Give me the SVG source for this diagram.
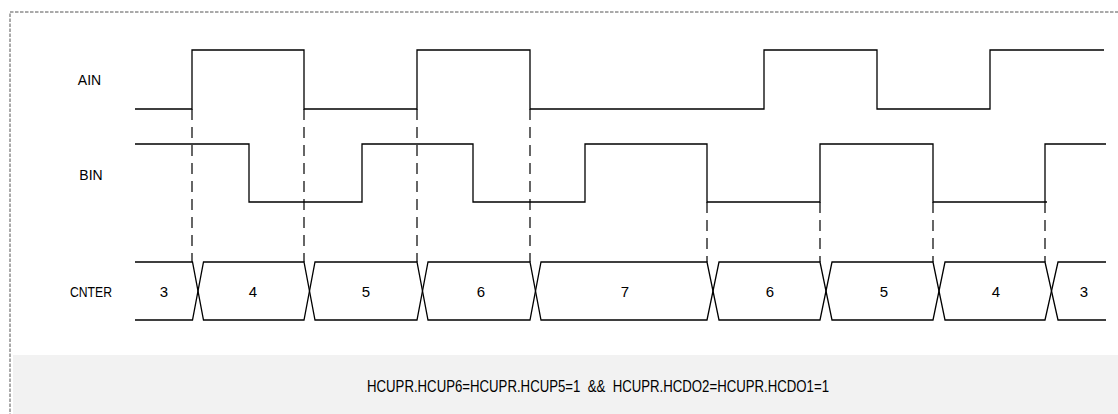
<svg xmlns="http://www.w3.org/2000/svg" width="1118" height="414" viewBox="0 0 1118 414">
<style>
.sig{fill:none;stroke:#000;stroke-width:1.3;stroke-linejoin:miter}
.dash{fill:none;stroke:#000;stroke-width:1.2;stroke-dasharray:11 7}
.lbl{font-family:"Liberation Sans",Arial,sans-serif;font-size:14px;fill:#000}
.num{font-family:"Liberation Sans",Arial,sans-serif;font-size:15px;fill:#000;text-anchor:middle}
</style>
<rect x="10" y="12" width="1120" height="420" fill="#fff" stroke="#555" stroke-width="1" stroke-dasharray="3.5 1.5"/>
<rect x="13" y="355" width="1105" height="59" fill="#f2f2f2"/>
<g id="labels">
<text class="lbl" x="89.5" y="85" text-anchor="middle">AIN</text>
<text class="lbl" x="91" y="180" text-anchor="middle">BIN</text>
<text class="lbl" x="91" y="297" text-anchor="middle" textLength="42" lengthAdjust="spacingAndGlyphs">CNTER</text>
</g>
<g id="AIN">
<path class="sig" d="M135 109 H192 V50 H304 V109 H417 V50 H530 V109 H764 V50 H877 V109 H990 V50 H1104"/>
</g>
<g id="BIN">
<path class="sig" d="M135 144 H249 V202 H362 V144 H473 V202 H585 V144 H707 V202 H820 V144 H933 V202 H1047 M1045 202 V144 H1106"/>
</g>
<g id="connectors">
<path class="dash" d="M192 109 V262 M304 109 V262 M417 109 V262 M530 109 V262 M707 202 V262 M820 202 V262 M933 202 V262 M1045 202 V262"/>
</g>
<g id="CNTER">
<path class="sig" d="M135 262 H192.5 L203.5 320 H304 L315 262 H417 L428 320 H530 L541 262 H707 L719 320 H820 L832 262 H933 L945 320 H1045 L1058 262 H1106"/>
<path class="sig" d="M135 320 H192.5 L203.5 262 H304 L315 320 H417 L428 262 H530 L541 320 H707 L719 262 H820 L832 320 H933 L945 262 H1045 L1058 320 H1106"/>
<text class="num" x="164" y="297">3</text>
<text class="num" x="253" y="297">4</text>
<text class="num" x="366" y="297">5</text>
<text class="num" x="481" y="297">6</text>
<text class="num" x="625" y="297">7</text>
<text class="num" x="770" y="297">6</text>
<text class="num" x="884" y="297">5</text>
<text class="num" x="996" y="297">4</text>
<text class="num" x="1084" y="297">3</text>
</g>
<g id="note">
<text x="598" y="391.5" text-anchor="middle" font-family="'Liberation Sans',Arial,sans-serif" font-size="16" textLength="462" lengthAdjust="spacingAndGlyphs">HCUPR.HCUP6=HCUPR.HCUP5=1&#160; &amp;&amp; &#160;HCUPR.HCDO2=HCUPR.HCDO1=1</text>
</g>
</svg>
